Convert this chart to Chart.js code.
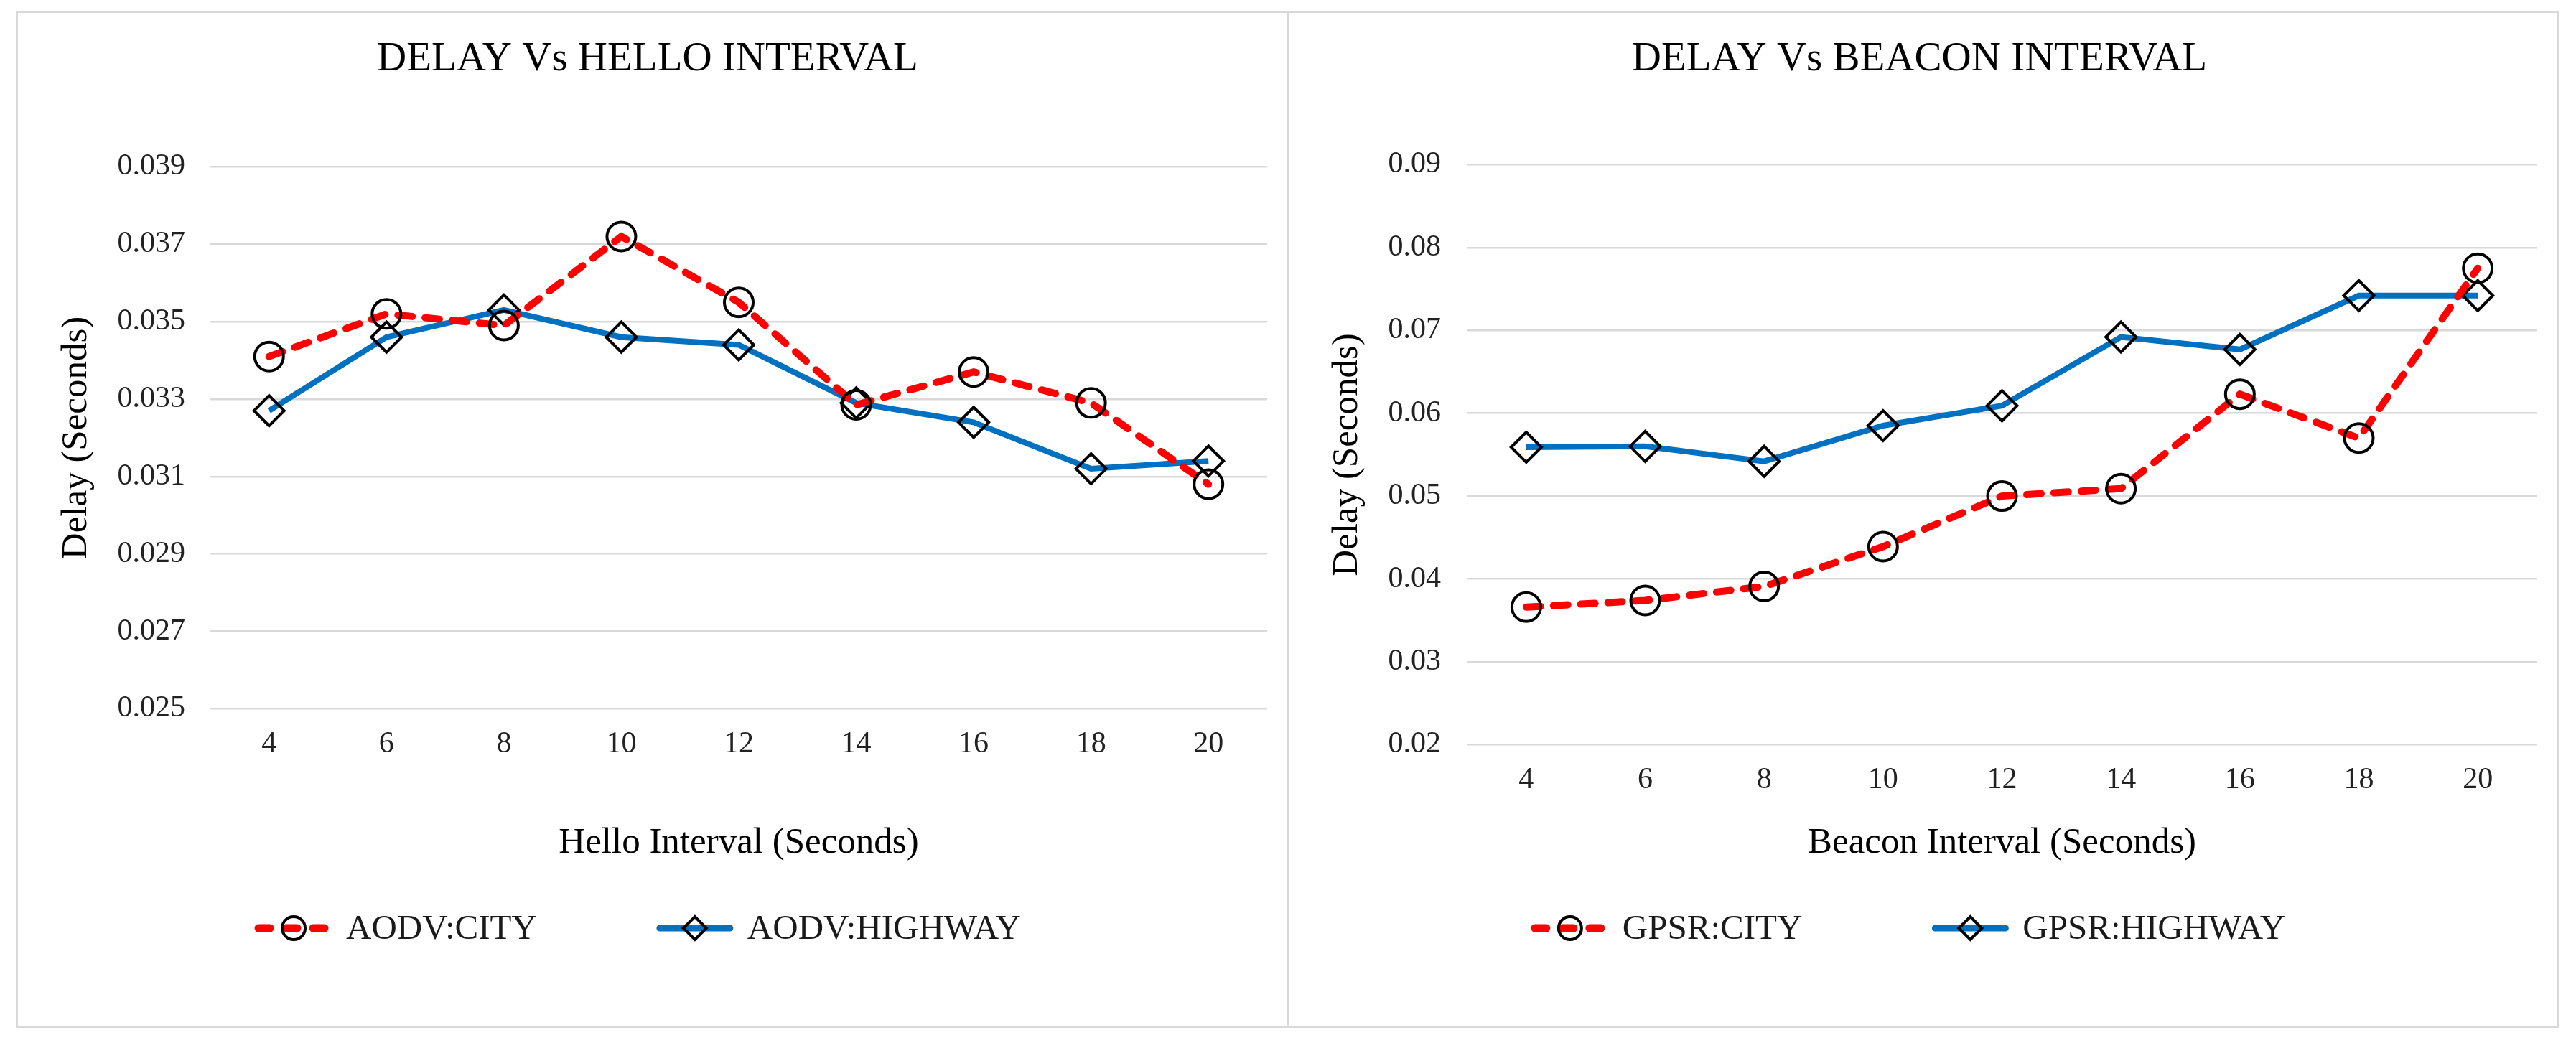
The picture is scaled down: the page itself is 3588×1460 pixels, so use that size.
<!DOCTYPE html>
<html>
<head>
<meta charset="utf-8">
<script src="https://cdn.jsdelivr.net/npm/chart.js@4.4.1/dist/chart.umd.min.js"></script>
<style>
html, body { margin: 0; padding: 0; background: #fff; }
body { width: 3588px; height: 1460px; position: relative; overflow: hidden; }
.panel { position: absolute; top: 15px; height: 1417px; box-sizing: border-box; border: 3px solid #d9d9d9; }
#leftPanel { left: 22px; width: 1773px; }
#rightPanel { left: 1792px; width: 1772px; }
canvas { position: absolute; top: 19px; }
#helloChart { left: 26px; }
#beaconChart { left: 1796px; }
</style>
</head>
<body>
<div class="panel" id="leftPanel"></div>
<div class="panel" id="rightPanel"></div>
<canvas id="helloChart" width="1764" height="1409"></canvas>
<canvas id="beaconChart" width="1763" height="1409"></canvas>
<script>
// DATA
const intervals = ['4', '6', '8', '10', '12', '14', '16', '18', '20'];

const aodvCity    = [0.0341, 0.0352, 0.0349, 0.0372, 0.0355, 0.03285, 0.0337, 0.0329, 0.0308];
const aodvHighway = [0.0327, 0.0346, 0.0353, 0.0346, 0.0344, 0.0329, 0.0324, 0.0312, 0.0314];

const gpsrCity    = [0.0366, 0.0374, 0.0391, 0.0439, 0.0500, 0.0509, 0.0623, 0.0570, 0.0775];
const gpsrHighway = [0.0559, 0.0560, 0.0542, 0.0585, 0.0609, 0.0692, 0.0677, 0.0742, 0.0742];

// TICK RANGES
const helloTicks  = { min: 0.025, max: 0.039, step: 0.002 };
const beaconTicks = { min: 0.02,  max: 0.09,  step: 0.01 };

const RED = '#ff0000';
const BLUE = '#0070c0';
const GRID = '#d9d9d9';

Chart.defaults.font.family = '"Liberation Serif", "Times New Roman", serif';
Chart.defaults.color = '#222';

// LEGEND: LINE + MARKER + TEXT, LIKE THE SPREADSHEET ONE
const lineLegend = {
    id: 'lineLegend',
    afterDraw(chart, args, opts) {
        const ctx = chart.ctx;
        ctx.save();
        ctx.font = '49px "Liberation Serif"';
        const items = chart.data.datasets.map(ds => ({ ds: ds, w: ctx.measureText(ds.label).width }));
        let total = opts.itemGap * (items.length - 1);
        items.forEach(it => { total += opts.glyph + opts.textGap + it.w; });
        let x = chart.width / 2 + opts.shift - total / 2;
        const y = opts.y;
        items.forEach(it => {
            const ds = it.ds;
            ctx.save();
            ctx.strokeStyle = ds.borderColor;
            ctx.lineWidth = ds.borderWidth + 1;
            ctx.lineCap = 'round';
            ctx.setLineDash(ds.borderDash ? [16, 22] : []);
            ctx.beginPath();
            ctx.moveTo(x + 6, y);
            ctx.lineTo(x + opts.glyph - 6, y);
            ctx.stroke();
            ctx.restore();

            ctx.strokeStyle = ds.pointBorderColor;
            ctx.fillStyle = 'rgba(0,0,0,0)';
            ctx.lineWidth = ds.pointBorderWidth;
            Chart.helpers.drawPoint(ctx, {
                pointStyle: ds.pointStyle,
                radius: 16,
                rotation: 0,
                borderWidth: ds.pointBorderWidth
            }, x + opts.glyph / 2, y);

            ctx.fillStyle = '#1a1a1a';
            ctx.textAlign = 'left';
            ctx.textBaseline = 'middle';
            ctx.fillText(ds.label, x + opts.glyph + opts.textGap, y + 2);
            x += opts.glyph + opts.textGap + it.w + opts.itemGap;
        });
        ctx.restore();
    }
};

function cityDataset(label, data) {
    return {
        label: label,
        data: data,
        borderColor: RED,
        borderWidth: 10,
        borderDash: [20, 18],
        borderCapStyle: 'round',
        pointStyle: 'circle',
        pointRadius: 20,
        pointBorderWidth: 4,
        pointBorderColor: '#000',
        pointBackgroundColor: 'rgba(0,0,0,0)',
        tension: 0
    };
}

function highwayDataset(label, data) {
    return {
        label: label,
        data: data,
        borderColor: BLUE,
        borderWidth: 8,
        pointStyle: 'rectRot',
        pointRadius: 21,
        pointBorderWidth: 4,
        pointBorderColor: '#000',
        pointBackgroundColor: 'rgba(0,0,0,0)',
        tension: 0
    };
}

function makeChart(id, o) {
    return new Chart(document.getElementById(id), {
        type: 'line',
        data: {
            labels: intervals,
            datasets: [cityDataset(o.cityLabel, o.city), highwayDataset(o.highwayLabel, o.highway)]
        },
        options: {
            responsive: false,
            animation: false,
            devicePixelRatio: 1,
            layout: { padding: { left: 0, right: o.padRight, top: 0, bottom: 223 } },
            plugins: {
                legend: { display: false },
                tooltip: { enabled: false },
                title: {
                    display: true,
                    text: o.title,
                    color: '#000',
                    font: { size: 57, weight: 'normal' },
                    padding: { top: 30, bottom: o.titleGap }
                },
                lineLegend: { y: 1274, glyph: 110, textGap: 18, itemGap: o.itemGap, shift: -20 }
            },
            scales: {
                x: {
                    offset: true,
                    grid: { display: false, drawTicks: false },
                    border: { display: false },
                    ticks: { font: { size: 42 }, padding: 24, maxRotation: 0 },
                    title: {
                        display: true,
                        text: o.xTitle,
                        color: '#000',
                        font: { size: 51 },
                        padding: { top: o.xTitleGap, bottom: 0 }
                    }
                },
                y: {
                    min: o.ticks.min,
                    max: o.ticks.max,
                    grid: { color: GRID, lineWidth: 2.5, drawTicks: false },
                    border: { display: false },
                    ticks: { stepSize: o.ticks.step, font: { size: 42 }, padding: o.yPad },
                    title: {
                        display: true,
                        text: 'Delay (Seconds)',
                        color: '#000',
                        font: { size: 51 },
                        padding: { top: 50, bottom: 0 }
                    },
                    afterFit: function (scale) { scale.width = o.yWidth; }
                }
            }
        },
        plugins: [lineLegend]
    });
}

// LEFT: HELLO INTERVAL
makeChart('helloChart', {
    title: 'DELAY Vs HELLO INTERVAL',
    xTitle: 'Hello Interval (Seconds)',
    cityLabel: 'AODV:CITY',
    highwayLabel: 'AODV:HIGHWAY',
    city: aodvCity,
    highway: aodvHighway,
    ticks: helloTicks,
    padRight: 12,
    titleGap: 115,
    xTitleGap: 58,
    yWidth: 267,
    yPad: 35,
    itemGap: 165
});

// RIGHT: BEACON INTERVAL
makeChart('beaconChart', {
    title: 'DELAY Vs BEACON INTERVAL',
    xTitle: 'Beacon Interval (Seconds)',
    cityLabel: 'GPSR:CITY',
    highwayLabel: 'GPSR:HIGHWAY',
    city: gpsrCity,
    highway: gpsrHighway,
    ticks: beaconTicks,
    padRight: 8,
    titleGap: 112,
    xTitleGap: 8,
    yWidth: 247,
    yPad: 36,
    itemGap: 179
});
</script>
</body>
</html>
